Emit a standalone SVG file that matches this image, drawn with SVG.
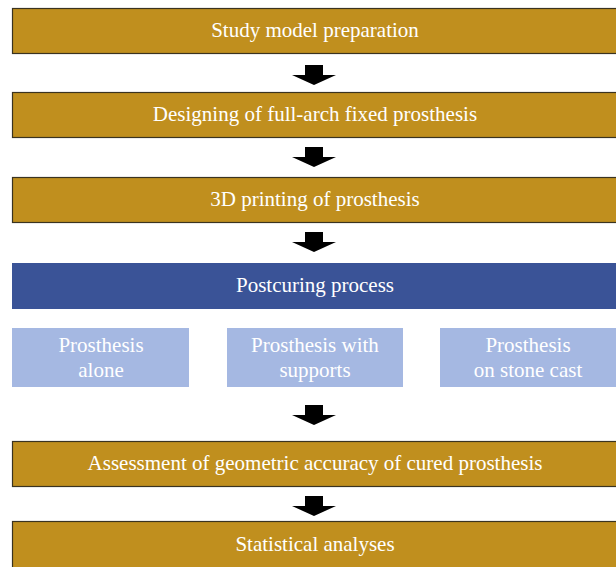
<svg xmlns="http://www.w3.org/2000/svg" width="616" height="567" viewBox="0 0 616 567">
<defs>
<style>
.gold{fill:#C08F1E;stroke:#3a3320;stroke-width:1.2}
.blue{fill:#3A5397}
.light{fill:#A5B8E2}
.t{font-family:"Liberation Serif","Times New Roman",serif;font-size:21px;fill:#FFFFFF;text-anchor:middle}
.arr{fill:#000000}
</style>
<path id="ar" d="M-9,0 H9 V10 H22 L0,20 L-22,10 H-9 Z"/>
</defs>
<rect width="616" height="567" fill="#FFFFFF"/>
<g id="n1"><rect class="gold" x="12.5" y="8.5" width="610" height="45"/><text class="t" x="315" y="37">Study model preparation</text></g>
<g id="n2"><rect class="gold" x="12.5" y="92.5" width="610" height="45"/><text class="t" x="315" y="120.5">Designing of full-arch fixed prosthesis</text></g>
<g id="n3"><rect class="gold" x="12.5" y="177.5" width="610" height="45"/><text class="t" x="315" y="205.5">3D printing of prosthesis</text></g>
<g id="n4"><rect class="blue" x="12" y="263" width="604" height="46"/><text class="t" x="315" y="291.5">Postcuring process</text></g>
<g id="n5"><rect class="light" x="12" y="328" width="177" height="59"/><text class="t" x="101" y="351.5">Prosthesis</text><text class="t" x="101" y="376.5">alone</text></g>
<g id="n6"><rect class="light" x="227" y="328" width="176" height="59"/><text class="t" x="315" y="351.5">Prosthesis with</text><text class="t" x="315" y="376.5">supports</text></g>
<g id="n7"><rect class="light" x="440" y="328" width="176" height="59"/><text class="t" x="528" y="351.5">Prosthesis</text><text class="t" x="528" y="376.5">on stone cast</text></g>
<g id="n8"><rect class="gold" x="12.5" y="441.5" width="610" height="45"/><text class="t" x="315" y="470">Assessment of geometric accuracy of cured prosthesis</text></g>
<g id="n9"><rect class="gold" x="12.5" y="521.5" width="610" height="50"/><text class="t" x="315" y="551">Statistical analyses</text></g>
<g id="connectors">
<use href="#ar" class="arr" x="314" y="65"/>
<use href="#ar" class="arr" x="314" y="147"/>
<use href="#ar" class="arr" x="314" y="232"/>
<use href="#ar" class="arr" x="314" y="405"/>
<use href="#ar" class="arr" x="314" y="496"/>
</g>
</svg>
